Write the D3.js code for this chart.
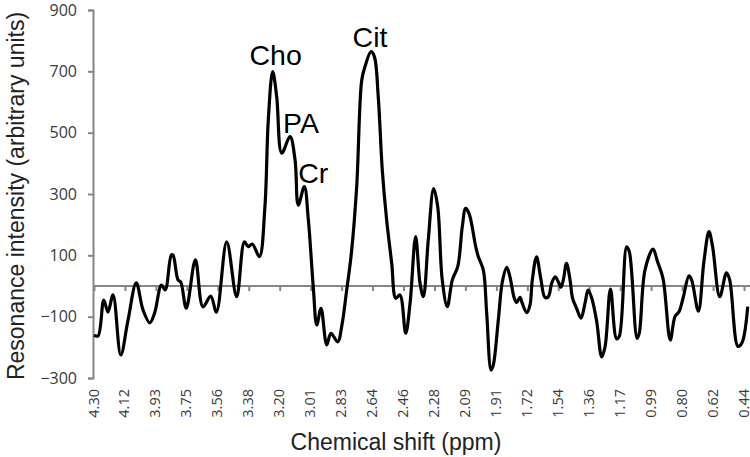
<!DOCTYPE html>
<html><head><meta charset="utf-8">
<script src="https://cdn.jsdelivr.net/npm/d3@7"></script>
<style>body{margin:0;background:#fff}svg{display:block}</style>
</head><body><svg id="c" width="750" height="457"></svg>
<script>
const xTickLabels = ["4.30","4.12","3.93","3.75","3.56","3.38","3.20","3.01","2.83","2.64","2.46","2.28","2.09","1.91","1.72","1.54","1.36","1.17","0.99","0.80","0.62","0.44"];
const yTicks = [-300,-100,100,300,500,700,900];
const ppm = [4.300,4.276,4.242,4.217,4.187,4.141,4.098,4.049,4.009,3.969,3.940,3.900,3.877,3.841,3.831,3.801,3.785,3.752,3.698,3.653,3.607,3.573,3.512,3.453,3.407,3.384,3.360,3.318,3.285,3.265,3.239,3.215,3.185,3.136,3.106,3.087,3.051,3.027,2.998,2.977,2.952,2.918,2.893,2.853,2.827,2.801,2.771,2.740,2.710,2.691,2.655,2.635,2.612,2.588,2.562,2.532,2.508,2.483,2.449,2.423,2.390,2.364,2.344,2.315,2.283,2.259,2.232,2.202,2.172,2.140,2.113,2.093,2.073,2.033,2.018,1.988,1.968,1.942,1.929,1.899,1.875,1.849,1.830,1.804,1.790,1.770,1.757,1.730,1.711,1.697,1.672,1.647,1.622,1.602,1.582,1.562,1.543,1.527,1.513,1.494,1.473,1.458,1.434,1.408,1.384,1.366,1.344,1.315,1.285,1.265,1.233,1.197,1.181,1.137,1.121,1.075,1.062,1.028,0.980,0.954,0.921,0.878,0.850,0.826,0.802,0.767,0.751,0.711,0.678,0.648,0.627,0.584,0.544,0.525,0.476,0.452,0.418];
const intensity = [-160,-163,-46,-85,-29,-225,-111,10,-78,-120,-88,3,-13,101,101,20,13,-72,85,-68,-33,-85,144,-35,144,128,137,96,259,541,699,617,433,487,411,264,324,215,-2,-127,-73,-192,-154,-182,-125,-20,110,324,672,715,764,748,617,378,215,74,-40,-29,-154,-56,161,9,-35,150,318,259,20,-67,20,63,193,253,237,128,96,52,-89,-274,-258,-111,14,61,30,-40,-54,-37,-56,-87,-62,20,95,25,-37,-35,9,30,14,-4,20,74,20,-40,-73,-105,-56,-13,-40,-115,-231,-198,-10,-172,-165,128,112,-171,-154,52,120,80,25,-176,-100,-84,-40,33,20,-82,80,177,130,-35,43,20,-197,-185,-67];
const peakLabels = ["Cho","PA","Cr","Cit"];
const peakPpm = [3.239,3.136,3.051,2.655];
const peakValue = [699,487,324,764];

const svg = d3.select("#c");
const x = d3.scaleLinear().domain([4.30,0.44]).range([94,744]);
const xCat = d3.scalePoint().domain(xTickLabels).range([94,744]);
const y = d3.scaleLinear().domain([-300,900]).range([378,10]);
const axisCol = "#868686", txtCol = "#3a3a3a";

// y axis
const ya = svg.append("g").attr("transform","translate(93,0)")
  .call(d3.axisLeft(y).tickValues(yTicks).tickSize(5).tickPadding(11).tickFormat(d3.format("d")));
ya.select(".domain").attr("stroke",axisCol).attr("stroke-width",2);
ya.selectAll(".tick line").attr("stroke",axisCol).attr("stroke-width",2);
ya.selectAll(".tick text").attr("fill",txtCol).style("font-family","'Open Sans', sans-serif").style("font-size","16px");

// x axis on zero line
const xa = svg.append("g").attr("transform",`translate(0,${y(0)})`)
  .call(d3.axisBottom(xCat).tickSize(5).tickSizeOuter(0).tickFormat(""));
xa.select(".domain").attr("d",`M93,0H750`).attr("stroke",axisCol).attr("stroke-width",2);
xa.selectAll(".tick line").attr("stroke",axisCol).attr("stroke-width",2);

// x tick labels at bottom
svg.append("g").selectAll("text").data(xTickLabels).join("text")
  .attr("transform",d=>`translate(${xCat(d)-1},389) rotate(-90)`)
  .attr("text-anchor","end").attr("dominant-baseline","central")
  .attr("fill",txtCol).style("font-family","'Open Sans', sans-serif").style("font-size","14.5px")
  .text(d=>d);

// line
const pts = ppm.map((p,i)=>[p,intensity[i]]);
svg.append("path").datum(pts)
  .attr("fill","none").attr("stroke","#000").attr("stroke-width",3.2).attr("stroke-linejoin","round")
  .attr("d",d3.line().x(d=>x(d[0])).y(d=>y(d[1])).curve(d3.curveCatmullRom.alpha(0.5)));

// peak labels
const dxs = [3,11,9,-1], dys = [-7,-4,-4,-5];
svg.append("g").selectAll("text").data(peakLabels).join("text")
  .attr("x",(d,i)=>x(peakPpm[i])+dxs[i]).attr("y",(d,i)=>y(peakValue[i])+dys[i])
  .attr("text-anchor","middle").attr("fill","#000")
  .style("font-family","'Liberation Sans', Arial, sans-serif").style("font-size","28.5px")
  .text(d=>d);

// titles
svg.append("text").attr("transform","translate(24,196) rotate(-90)").attr("text-anchor","middle")
  .attr("fill","#222").style("font-family","'Liberation Sans', Arial, sans-serif").style("font-size","23px")
  .text("Resonance intensity (arbitrary units)");
svg.append("text").attr("x",396).attr("y",450).attr("text-anchor","middle")
  .attr("fill","#222").style("font-family","'Liberation Sans', Arial, sans-serif").style("font-size","23px")
  .text("Chemical shift (ppm)");
</script></body></html>
